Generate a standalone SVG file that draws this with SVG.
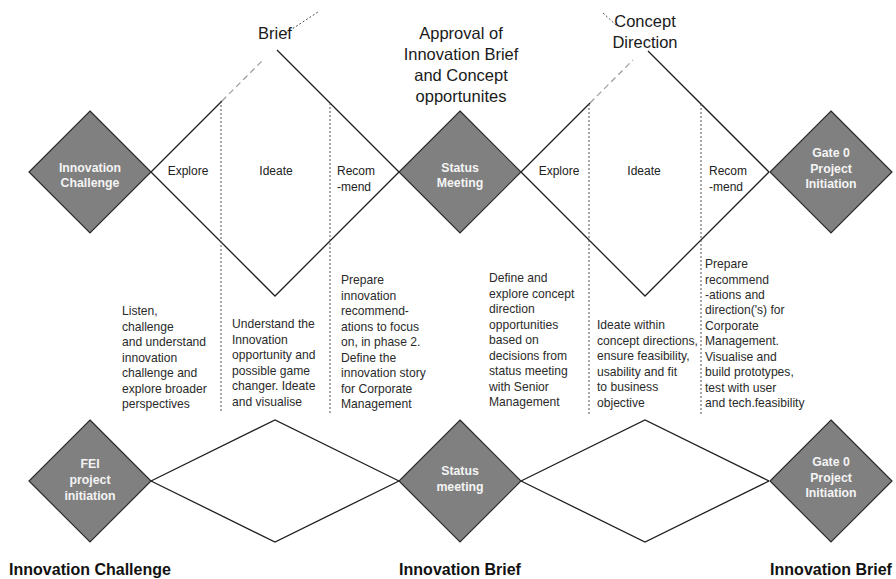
<svg xmlns="http://www.w3.org/2000/svg" width="896" height="579" viewBox="0 0 896 579">
<style>
.bg{fill:#ffffff}
.dia{fill:#808080;stroke:#2a2a2a;stroke-width:1.2}
.dt{font-family:"Liberation Sans",Arial,sans-serif;font-size:12.3px;font-weight:bold;fill:#f4f4f4;text-anchor:middle}
.edge{fill:none;stroke:#1e1e1e;stroke-width:1.3}
.dash{fill:none;stroke:#9a9a9a;stroke-width:1.2;stroke-dasharray:6 4}
.dot{fill:none;stroke:#555;stroke-width:1;stroke-dasharray:2 2}
.ph{font-family:"Liberation Sans",Arial,sans-serif;font-size:12px;fill:#222}
.phc{font-family:"Liberation Sans",Arial,sans-serif;font-size:12px;fill:#222;text-anchor:middle}
.desc{font-family:"Liberation Sans",Arial,sans-serif;font-size:12.1px;fill:#2a2a2a}
.big{font-family:"Liberation Sans",Arial,sans-serif;font-size:16.5px;fill:#1a1a1a;text-anchor:middle}
.foot{font-family:"Liberation Sans",Arial,sans-serif;font-size:16px;font-weight:bold;fill:#111;text-anchor:middle}
</style>
<rect class="bg" x="0" y="0" width="896" height="579"/>

<g id="connectors">
  <line class="edge" x1="151" y1="172" x2="222" y2="101"/>
  <line class="dash" x1="222" y1="101" x2="263" y2="60"/>
  <line class="dot" x1="286" y1="33" x2="318" y2="12"/>
  <polyline class="edge" points="277,50 399,172"/>
  <polyline class="edge" points="151,172 275,296 399,172"/>
  <line class="edge" x1="521" y1="172" x2="590" y2="103"/>
  <line class="dash" x1="590" y1="103" x2="633" y2="60"/>
  <line class="dot" x1="603" y1="13" x2="616" y2="25"/>
  <polyline class="edge" points="648,51 769,172"/>
  <polyline class="edge" points="521,172 645,296 769,172"/>
  <line class="dot" x1="221" y1="101" x2="221" y2="412"/>
  <line class="dot" x1="330" y1="103" x2="330" y2="414"/>
  <line class="dot" x1="589" y1="104" x2="589" y2="414"/>
  <line class="dot" x1="701" y1="104" x2="701" y2="414"/>
  <polyline class="edge" points="151,481 275,420 399,481"/>
  <polyline class="edge" points="151,481 275,542 399,481"/>
  <polyline class="edge" points="521,481 645,420 769,481"/>
  <polyline class="edge" points="521,481 645,542 769,481"/>
</g>

<g id="innovation-challenge">
  <polygon class="dia" points="90,111 151,172 90,233 29,172"/>
  <text class="dt" x="90" y="172">Innovation</text>
  <text class="dt" x="90" y="187">Challenge</text>
</g>
<g id="status-meeting">
  <polygon class="dia" points="460,111 521,172 460,233 399,172"/>
  <text class="dt" x="460" y="172">Status</text>
  <text class="dt" x="460" y="187">Meeting</text>
</g>
<g id="gate0-top">
  <polygon class="dia" points="831,111 892,172 831,233 770,172"/>
  <text class="dt" x="831" y="157">Gate 0</text>
  <text class="dt" x="831" y="173">Project</text>
  <text class="dt" x="831" y="188">Initiation</text>
</g>
<g id="fei">
  <polygon class="dia" points="90,420 151,481 90,542 29,481"/>
  <text class="dt" x="90" y="468">FEI</text>
  <text class="dt" x="90" y="484">project</text>
  <text class="dt" x="90" y="500">initiation</text>
</g>
<g id="status-bottom">
  <polygon class="dia" points="460,420 521,481 460,542 399,481"/>
  <text class="dt" x="460" y="475">Status</text>
  <text class="dt" x="460" y="491">meeting</text>
</g>
<g id="gate0-bottom">
  <polygon class="dia" points="831,420 892,481 831,542 770,481"/>
  <text class="dt" x="831" y="466">Gate 0</text>
  <text class="dt" x="831" y="482">Project</text>
  <text class="dt" x="831" y="497">Initiation</text>
</g>

<g id="labels">
  <text class="big" x="275" y="39">Brief</text>
  <text class="big" x="461" y="39">Approval of</text>
  <text class="big" x="461" y="60">Innovation Brief</text>
  <text class="big" x="461" y="81">and Concept</text>
  <text class="big" x="461" y="102">opportunites</text>
  <text class="big" x="645" y="27">Concept</text>
  <text class="big" x="645" y="48">Direction</text>

  <text class="phc" x="188" y="175">Explore</text>
  <text class="phc" x="276" y="175">Ideate</text>
  <text class="ph" x="337" y="175">Recom</text>
  <text class="ph" x="337" y="191">-mend</text>
  <text class="phc" x="559" y="175">Explore</text>
  <text class="phc" x="644" y="175">Ideate</text>
  <text class="ph" x="709" y="175">Recom</text>
  <text class="ph" x="709" y="191">-mend</text>
</g>

<g id="descriptions">
  <text class="desc" x="122" y="315">Listen,</text>
  <text class="desc" x="122" y="331">challenge</text>
  <text class="desc" x="122" y="346">and understand</text>
  <text class="desc" x="122" y="362">innovation</text>
  <text class="desc" x="122" y="377">challenge and</text>
  <text class="desc" x="122" y="393">explore broader</text>
  <text class="desc" x="122" y="408">perspectives</text>

  <text class="desc" x="232" y="328">Understand the</text>
  <text class="desc" x="232" y="344">Innovation</text>
  <text class="desc" x="232" y="359">opportunity and</text>
  <text class="desc" x="232" y="375">possible game</text>
  <text class="desc" x="232" y="390">changer. Ideate</text>
  <text class="desc" x="232" y="406">and visualise</text>

  <text class="desc" x="341" y="284">Prepare</text>
  <text class="desc" x="341" y="300">innovation</text>
  <text class="desc" x="341" y="315">recommend-</text>
  <text class="desc" x="341" y="331">ations to focus</text>
  <text class="desc" x="341" y="346">on, in phase 2.</text>
  <text class="desc" x="341" y="362">Define the</text>
  <text class="desc" x="341" y="377">innovation story</text>
  <text class="desc" x="341" y="393">for Corporate</text>
  <text class="desc" x="341" y="408">Management</text>

  <text class="desc" x="489" y="282">Define and</text>
  <text class="desc" x="489" y="298">explore concept</text>
  <text class="desc" x="489" y="313">direction</text>
  <text class="desc" x="489" y="329">opportunities</text>
  <text class="desc" x="489" y="344">based on</text>
  <text class="desc" x="489" y="360">decisions from</text>
  <text class="desc" x="489" y="375">status meeting</text>
  <text class="desc" x="489" y="391">with Senior</text>
  <text class="desc" x="489" y="406">Management</text>

  <text class="desc" x="597" y="329">Ideate within</text>
  <text class="desc" x="597" y="345">concept directions,</text>
  <text class="desc" x="597" y="360">ensure feasibility,</text>
  <text class="desc" x="597" y="376">usability and fit</text>
  <text class="desc" x="597" y="391">to business</text>
  <text class="desc" x="597" y="407">objective</text>

  <text class="desc" x="705" y="268">Prepare</text>
  <text class="desc" x="705" y="284">recommend</text>
  <text class="desc" x="705" y="299">-ations and</text>
  <text class="desc" x="705" y="314">direction('s) for</text>
  <text class="desc" x="705" y="330">Corporate</text>
  <text class="desc" x="705" y="345">Management.</text>
  <text class="desc" x="705" y="361">Visualise and</text>
  <text class="desc" x="705" y="376">build prototypes,</text>
  <text class="desc" x="705" y="392">test with user</text>
  <text class="desc" x="705" y="407">and tech.feasibility</text>
</g>

<g id="footer">
  <text class="foot" x="90" y="575">Innovation Challenge</text>
  <text class="foot" x="460" y="575">Innovation Brief</text>
  <text class="foot" x="831" y="575">Innovation Brief</text>
</g>
</svg>
